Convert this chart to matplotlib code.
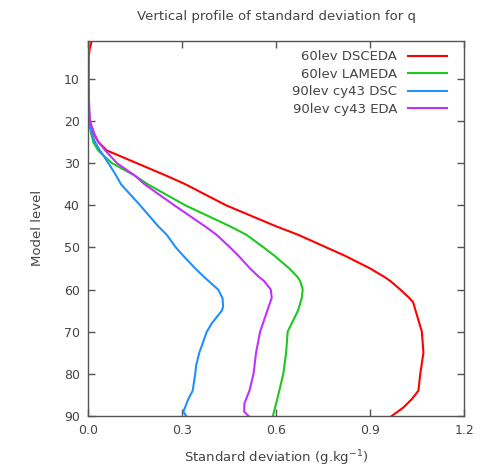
import matplotlib.pyplot as plt

# model levels and std-dev values
red_lev = [1, 3, 5, 10, 15, 20, 23, 25, 27, 30, 33, 35, 40, 45, 47, 50, 52, 55, 57, 58, 60, 62, 63,
           65, 70, 75, 80, 84, 86, 88, 90]
red_sd = [0.012, 0.005, 0.002, 0.001, 0.001, 0.005, 0.018, 0.033, 0.06, 0.155, 0.25, 0.31, 0.44, 0.60,
          0.67, 0.76, 0.82, 0.90, 0.945, 0.965, 0.996, 1.025, 1.037, 1.045, 1.065, 1.07, 1.06, 1.054,
          1.033, 1.006, 0.969]

green_lev = [12, 15, 20, 23, 25, 27, 30, 33, 35, 40, 45, 47, 50, 52, 55, 57, 58, 60, 62, 65, 68, 70,
             75, 80, 85, 90]
green_sd = [0.001, 0.001, 0.003, 0.01, 0.017, 0.032, 0.076, 0.15, 0.19, 0.31, 0.453, 0.505, 0.56,
            0.595, 0.642, 0.668, 0.677, 0.685, 0.682, 0.67, 0.65, 0.637, 0.632, 0.623, 0.607, 0.59]

blue_lev = [12, 15, 20, 23, 25, 27, 30, 33, 35, 40, 45, 47, 50, 52, 55, 57, 58, 60, 62, 64, 65, 68,
            70, 75, 78, 80, 84, 86, 89, 90]
blue_sd = [0.001, 0.001, 0.004, 0.012, 0.022, 0.038, 0.065, 0.09, 0.105, 0.166, 0.224, 0.251, 0.28,
           0.304, 0.342, 0.37, 0.385, 0.415, 0.429, 0.431, 0.427, 0.395, 0.379, 0.355, 0.345, 0.342,
           0.334, 0.32, 0.304, 0.313]

purple_lev = [1, 5, 10, 15, 20, 23, 25, 27, 30, 33, 35, 40, 45, 47, 50, 52, 55, 57, 58, 60, 62, 65,
              70, 75, 80, 84, 87, 89, 90]
purple_sd = [0.002, 0.002, 0.002, 0.003, 0.006, 0.02, 0.033, 0.055, 0.092, 0.15, 0.18, 0.275, 0.373,
             0.41, 0.453, 0.48, 0.517, 0.545, 0.562, 0.583, 0.586, 0.572, 0.549, 0.536, 0.528, 0.515,
             0.499, 0.498, 0.512]

labels = ["60lev DSCEDA", "60lev LAMEDA", "90lev cy43 DSC", "90lev cy43 EDA"]
colors = ["#ff0000", "#1ec81e", "#2090ff", "#c030ff"]

x_ticks = [0.0, 0.3, 0.6, 0.9, 1.2]
y_ticks = [10, 20, 30, 40, 50, 60, 70, 80, 90]

plt.rcParams["font.family"] = "DejaVu Sans"
fig = plt.figure(figsize=(4.81, 4.70), dpi=100)
ax = fig.add_axes([0.183, 0.115, 0.782, 0.798])

series = [(red_sd, red_lev), (green_sd, green_lev), (blue_sd, blue_lev), (purple_sd, purple_lev)]
for (xs, ys), lab, col in zip(series, labels, colors):
    ax.plot(xs, ys, color=col, lw=1.5, label=lab)

ax.set_xlim(0, 1.2)
ax.set_ylim(90, 1)
ax.set_xticks(x_ticks)
ax.set_xticklabels([f"{v:.1f}" for v in x_ticks])
ax.set_yticks(y_ticks)

text_col = "#444444"
for s in ax.spines.values():
    s.set_color("#555555")
    s.set_linewidth(1.0)
ax.tick_params(direction="in", length=5, width=1, colors="#555555", labelcolor=text_col,
               labelsize=9, top=True, right=True, pad=6)

ax.set_xlabel("Standard deviation (g.kg$^{-1}$)", fontsize=9.5, color=text_col, labelpad=8)
ax.set_ylabel("Model level", fontsize=9.5, color=text_col, labelpad=14)
fig.text(0.575, 0.965, "Vertical profile of standard deviation for q", ha="center", va="center",
         fontsize=9.5, color=text_col)

leg = ax.legend(loc="upper right", bbox_to_anchor=(0.98, 1.0), frameon=False, markerfirst=False,
                fontsize=9.5, handlelength=3.0, handletextpad=0.8, labelspacing=0.35,
                borderaxespad=0.3)
for t in leg.get_texts():
    t.set_color(text_col)
    t.set_ha("right")

fig.savefig("out.png", dpi=100)
